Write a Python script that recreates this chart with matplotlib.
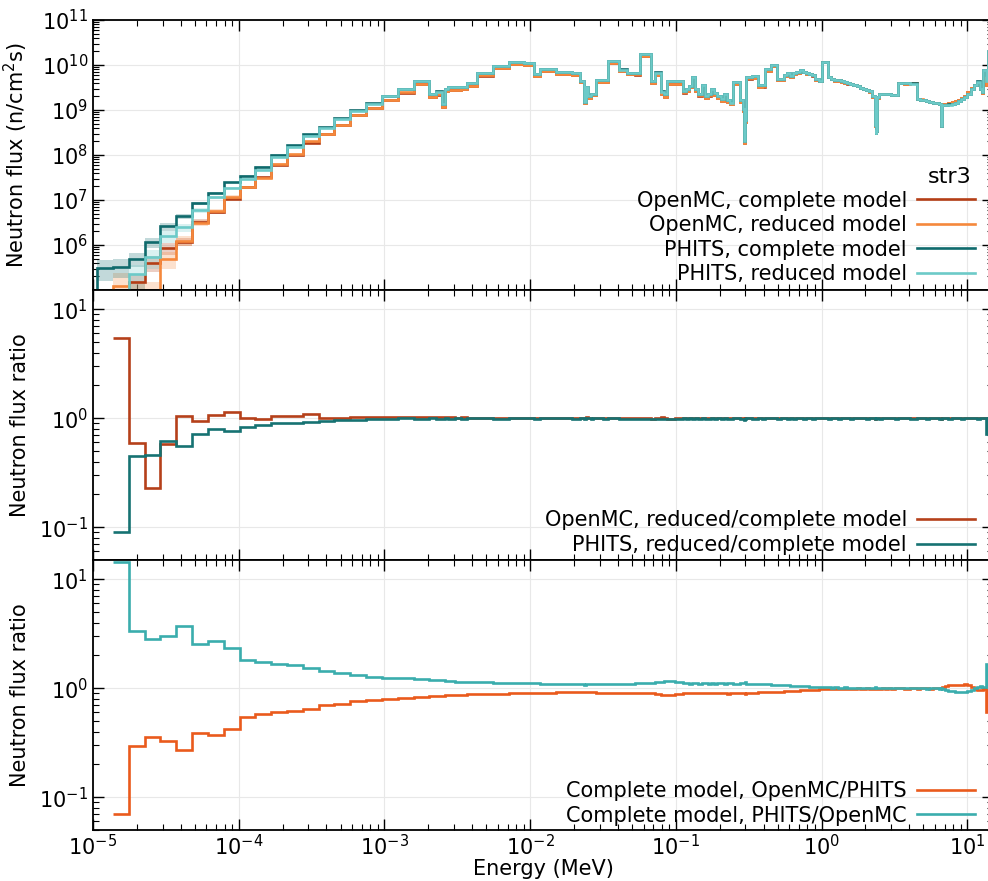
import numpy as np
import matplotlib.pyplot as plt
from matplotlib.ticker import FuncFormatter, NullFormatter, LogLocator

nan = np.nan

# group boundaries (MeV), Vitamin-J style structure above ~10 eV
edges = [
    1.0677e-5, 1.3710e-5, 1.7603e-5, 2.2603e-5, 2.9023e-5, 3.7267e-5, 4.7851e-5, 6.1442e-5,
    7.8893e-5, 1.0130e-4, 1.3007e-4, 1.6702e-4, 2.1445e-4, 2.7536e-4, 3.5357e-4, 4.5400e-4,
    5.8295e-4, 7.4852e-4, 9.6112e-4, 1.2341e-3, 1.5846e-3, 2.0347e-3, 2.2487e-3, 2.4852e-3,
    2.6126e-3, 2.7465e-3, 3.0354e-3, 3.3546e-3, 3.7074e-3, 4.3074e-3, 5.5308e-3, 7.1017e-3,
    9.1188e-3, 1.0595e-2, 1.1709e-2, 1.5034e-2, 1.9305e-2, 2.1875e-2, 2.3579e-2, 2.4176e-2,
    2.4788e-2, 2.6058e-2, 2.7000e-2, 2.8500e-2, 3.1828e-2, 3.4307e-2, 4.0868e-2, 4.6309e-2,
    5.2475e-2, 5.6562e-2, 6.7379e-2, 7.2000e-2, 7.9500e-2, 8.2500e-2, 8.6517e-2, 9.8037e-2,
    1.1109e-1, 1.1679e-1, 1.2277e-1, 1.2907e-1, 1.3569e-1, 1.4264e-1, 1.4996e-1, 1.5764e-1,
    1.6573e-1, 1.7422e-1, 1.8316e-1, 1.9255e-1, 2.0242e-1, 2.1280e-1, 2.2371e-1, 2.3518e-1,
    2.4724e-1, 2.7324e-1, 2.8725e-1, 2.9452e-1, 2.9720e-1, 2.9850e-1, 3.0197e-1, 3.3373e-1,
    3.6883e-1, 3.8774e-1, 4.0762e-1, 4.5049e-1, 4.9787e-1, 5.2340e-1, 5.5023e-1, 5.7844e-1,
    6.0810e-1, 6.3928e-1, 6.7206e-1, 7.0652e-1, 7.4274e-1, 7.8082e-1, 8.2085e-1, 8.6294e-1,
    9.0718e-1, 9.6164e-1, 1.0026, 1.1080, 1.1648, 1.2246, 1.2874, 1.3534,
    1.4227, 1.4957, 1.5724, 1.6530, 1.7377, 1.8268, 1.9205, 2.0190,
    2.1225, 2.2313, 2.3069, 2.3457, 2.3653, 2.3852, 2.4660, 2.5924,
    2.7253, 2.8650, 3.0119, 3.1664, 3.3287, 3.6788, 4.0657, 4.4933,
    4.7237, 4.9659, 5.2205, 5.4881, 5.7695, 6.0653, 6.3763, 6.5924,
    6.7032, 7.0469, 7.4082, 7.7880, 8.1873, 8.6071, 9.0484, 9.5123,
    10.000, 10.513, 11.052, 11.618, 12.214, 12.523, 12.840, 13.499,
    13.840, 14.191, 14.550, 14.918, 15.683, 16.487, 16.905, 17.333,
    19.640,
]

# PHITS, complete model: flux per group (n/cm2s)
phits_complete = [
    3.1e5, 3.3e5, 5.0e5, 1.15e6, 2.6e6, 4.4e6, 8.4e6, 1.45e7, 2.45e7, 3.5e7,
    5.5e7, 1.0e8, 1.66e8, 2.9e8, 4.2e8, 6.5e8, 1.0e9, 1.4e9, 2.05e9, 3.0e9,
    4.5e9, 2.3e9, 2.6e9, 1.35e9, 3.0e9, 3.2e9, 3.2e9, 3.3e9, 3.9e9, 6.6e9,
    9.5e9, 1.15e10, 1.09e10, 6.3e9, 8.1e9, 6.9e9, 6.6e9, 4.5e9, 1.5e9, 3.3e9,
    2.0e9, 2.3e9, 2.3e9, 4.6e9, 4.6e9, 1.23e10, 8.0e9, 6.8e9, 6.8e9, 1.75e10,
    4.4e9, 6.9e9, 2.6e9, 2.3e9, 4.4e9, 4.4e9, 2.7e9, 3.0e9, 3.5e9, 5.4e9,
    3.0e9, 2.3e9, 3.6e9, 2.05e9, 2.3e9, 3.0e9, 2.4e9, 2.05e9, 1.75e9, 2.3e9,
    1.66e9, 1.48e9, 4.1e9, 1.66e9, 1.05e9, 2.1e8, 3.2e8, 6.0e8, 5.5e9, 5.7e9,
    3.6e9, 3.6e9, 8.0e9, 1.0e10, 5.0e9, 5.0e9, 6.0e9, 6.8e9, 5.7e9, 6.6e9,
    7.1e9, 7.7e9, 7.1e9, 6.6e9, 6.4e9, 6.0e9, 4.8e9, 4.5e9, 1.18e10, 5.5e9,
    5.0e9, 4.6e9, 4.6e9, 4.3e9, 4.1e9, 3.9e9, 3.8e9, 3.6e9, 3.5e9, 3.1e9,
    3.0e9, 2.8e9, 2.6e9, 2.0e9, 4.6e8, 3.0e8, 3.5e8, 1.9e9, 2.3e9, 2.3e9,
    2.3e9, 2.25e9, 2.2e9, 2.15e9, 3.9e9, 3.9e9, 3.9e9, 1.75e9, 1.7e9, 1.65e9,
    1.6e9, 1.5e9, 1.45e9, 1.42e9, 1.38e9, 4.4e8, 1.3e9, 1.3e9, 1.33e9, 1.38e9,
    1.45e9, 1.55e9, 1.75e9, 1.9e9, 2.3e9, 3.0e9, 3.6e9, 4.3e9, 3.0e9, 2.5e9,
    7.7e9, 6.0e9, 2.0e10, 4.0e10, 2.0e9, 1.0e9, 5.0e8, 2.0e8, 1.0e8, 5.0e7,
]

# complete model, OpenMC / PHITS
openmc_over_phits = [
    nan, 0.07, 0.298, 0.355, 0.331, 0.27, 0.392, 0.371, 0.424, 0.546,
    0.58, 0.606, 0.615, 0.646, 0.694, 0.723, 0.755, 0.787, 0.80, 0.81,
    0.83, 0.84, 0.85, 0.85, 0.86, 0.86, 0.87, 0.87, 0.88, 0.885,
    0.89, 0.894, 0.895, 0.90, 0.91, 0.92, 0.92, 0.92, 0.93, 0.92,
    0.92, 0.92, 0.92, 0.91, 0.91, 0.91, 0.91, 0.91, 0.90, 0.90,
    0.90, 0.88, 0.87, 0.86, 0.86, 0.88, 0.90, 0.90, 0.91, 0.90,
    0.90, 0.91, 0.90, 0.90, 0.91, 0.90, 0.91, 0.90, 0.90, 0.91,
    0.89, 0.90, 0.91, 0.90, 0.90, 0.90, 0.90, 0.88, 0.91, 0.91,
    0.92, 0.92, 0.92, 0.93, 0.93, 0.93, 0.94, 0.94, 0.95, 0.95,
    0.95, 0.96, 0.96, 0.96, 0.97, 0.97, 0.97, 0.98, 0.98, 0.985,
    0.99, 0.98, 0.99, 0.99, 0.985, 0.99, 0.99, 0.99, 1.0, 0.99,
    0.99, 0.995, 0.99, 0.99, 0.98, 0.99, 0.99, 0.99, 0.99, 1.0,
    0.99, 0.995, 0.99, 1.0, 1.0, 0.99, 1.0, 0.99, 1.0, 1.0,
    1.01, 0.99, 1.0, 1.0, 1.01, 1.0, 1.02, 1.04, 1.06, 1.07,
    1.08, 1.08, 1.08, 1.09, 1.07, 1.03, 0.99, 0.97, 0.96, 0.97,
    0.98, 0.6, 0.98, 0.99, 0.97, 0.95, 0.95, 0.95, 0.95, 0.95,
]

# OpenMC, reduced / complete model
openmc_red_ratio = [
    nan, 5.4, 0.594, 0.228, 0.574, 1.05, 0.94, 1.08, 1.14, 1.0,
    0.98, 1.04, 1.05, 1.095, 1.0, 1.01, 1.02, 1.03, 1.03, 1.02,
    1.02, 1.03, 1.02, 1.02, 1.02, 1.02, 1.01, 1.02, 1.01, 1.01,
    1.01, 1.01, 1.01, 1.01, 1.0, 1.01, 1.01, 1.0, 1.01, 1.02,
    1.0, 1.01, 1.01, 1.0, 1.0, 1.0, 1.01, 1.0, 1.01, 1.0,
    0.99, 1.01, 1.02, 1.0, 0.99, 1.0, 1.01, 1.0, 1.0, 1.01,
    1.0, 1.01, 1.0, 1.0, 1.01, 1.0, 1.0, 1.01, 1.0, 1.0,
    1.01, 1.0, 1.0, 1.01, 1.0, 0.98, 1.02, 1.0, 1.01, 1.0,
    1.0, 1.01, 1.0, 1.0, 1.01, 1.0, 1.0, 1.01, 1.0, 1.0,
    1.0, 1.01, 1.0, 1.0, 1.0, 1.01, 1.0, 1.0, 1.0, 1.0,
    1.01, 1.0, 1.0, 1.0, 1.0, 1.01, 1.0, 1.0, 1.0, 1.0,
    1.0, 1.01, 1.0, 1.0, 0.99, 1.01, 1.0, 1.0, 1.0, 1.0,
    1.0, 1.0, 1.01, 1.0, 1.0, 1.0, 1.0, 1.0, 1.01, 1.0,
    1.0, 1.0, 1.0, 1.0, 1.0, 0.99, 1.0, 1.0, 1.0, 1.01,
    1.0, 1.0, 1.0, 1.0, 1.0, 1.0, 1.0, 1.0, 1.0, 1.0,
    1.0, 1.0, 1.0, 1.0, 1.0, 1.0, 1.0, 1.0, 1.0, 1.0,
]

# PHITS, reduced / complete model
phits_red_ratio = [
    nan, 0.09, 0.448, 0.464, 0.615, 0.561, 0.713, 0.793, 0.76, 0.83,
    0.857, 0.894, 0.906, 0.93, 0.95, 0.96, 0.97, 0.98, 0.99, 1.0,
    0.99, 1.0, 0.99, 0.99, 1.0, 0.99, 1.0, 0.99, 1.0, 1.0,
    0.99, 1.0, 1.0, 0.99, 1.0, 1.0, 0.99, 1.0, 0.99, 1.0,
    1.0, 0.99, 1.0, 1.0, 0.99, 1.0, 0.99, 0.98, 0.98, 0.98,
    0.98, 0.98, 0.99, 0.98, 0.99, 0.99, 1.0, 0.99, 1.0, 0.99,
    1.0, 0.99, 1.0, 0.99, 0.99, 1.0, 0.99, 1.0, 0.99, 1.0,
    0.99, 0.99, 1.0, 0.99, 0.99, 0.97, 0.99, 0.99, 1.0, 0.99,
    1.0, 0.99, 1.0, 1.0, 0.99, 1.0, 1.0, 0.99, 1.0, 0.99,
    1.0, 1.0, 0.99, 1.0, 1.0, 0.99, 1.0, 1.0, 1.0, 0.99,
    1.0, 1.0, 0.99, 1.0, 1.0, 1.0, 0.99, 1.0, 1.0, 1.0,
    1.0, 0.99, 1.0, 1.0, 0.99, 1.0, 1.0, 1.0, 0.99, 1.0,
    1.0, 1.0, 1.0, 0.99, 1.0, 1.0, 0.99, 1.0, 1.0, 1.0,
    0.99, 1.0, 1.0, 1.0, 0.99, 0.99, 1.0, 1.0, 0.99, 1.0,
    1.0, 1.0, 0.99, 1.0, 1.0, 1.0, 1.0, 0.99, 1.0, 1.0,
    1.0, 0.72, 1.0, 1.0, 1.0, 1.0, 1.0, 1.0, 1.0, 1.0,
]

# relative statistical uncertainty, first groups only
phits_complete_err = [0.5, 0.45, 0.35, 0.25, 0.2, 0.12, 0.08, 0.06, 0.05, 0.04, 0.03, 0.03]
phits_reduced_err = [nan, 0.9, 0.6, 0.45, 0.3, 0.2, 0.12, 0.08, 0.06, 0.05, 0.04, 0.03]
openmc_complete_err = [nan, 0.9, 0.55, 0.4, 0.3, 0.18, 0.12, 0.08, 0.06, 0.05, 0.04, 0.03]
openmc_reduced_err = [nan, 0.9, 0.8, 0.6, 0.4, 0.25, 0.15, 0.1, 0.07, 0.05, 0.04, 0.03]

edges = np.array(edges)
phits_complete = np.array(phits_complete)
openmc_over_phits = np.array(openmc_over_phits)
openmc_complete = phits_complete * openmc_over_phits
openmc_reduced = openmc_complete * np.array(openmc_red_ratio)
phits_reduced = phits_complete * np.array(phits_red_ratio)
phits_over_openmc = 1.0 / openmc_over_phits

c_omc_c = '#b43e16'
c_omc_r = '#f5883c'
c_ph_c = '#0f6a6c'
c_ph_r = '#6ccac8'
c_ratio_omc = '#b5401a'
c_ratio_ph = '#167272'
c_cmp_omc = '#ea5a1c'
c_cmp_ph = '#3aadad'

plt.rcParams['font.family'] = ['DejaVu Sans']
fig = plt.figure(figsize=(9.88, 8.81), dpi=100)
left = 93 / 988
width = (993 - 93) / 988
h = 270 / 881
ax1 = fig.add_axes([left, 1 - 290 / 881, width, h])
ax2 = fig.add_axes([left, 1 - 560 / 881, width, h], sharex=ax1)
ax3 = fig.add_axes([left, 1 - 830 / 881, width, h], sharex=ax1)


def band(ax, vals, errs, color, alpha):
    for i, e in enumerate(errs):
        if np.isnan(e) or np.isnan(vals[i]):
            continue
        ax.fill_between([edges[i], edges[i + 1]], vals[i] * (1 - e), vals[i] * (1 + e),
                        color=color, alpha=alpha, lw=0, zorder=1)


lw = 1.9
band(ax1, openmc_complete, openmc_complete_err, c_omc_c, 0.25)
band(ax1, openmc_reduced, openmc_reduced_err, c_omc_r, 0.25)
band(ax1, phits_complete, phits_complete_err, c_ph_c, 0.25)
band(ax1, phits_reduced, phits_reduced_err, c_ph_r, 0.25)
ax1.stairs(openmc_complete, edges, baseline=0, color=c_omc_c, lw=lw, label='OpenMC, complete model', zorder=3)
ax1.stairs(openmc_reduced, edges, baseline=0, color=c_omc_r, lw=lw, label='OpenMC, reduced model', zorder=3)
ax1.stairs(phits_complete, edges, baseline=0, color=c_ph_c, lw=lw, label='PHITS, complete model', zorder=3)
ax1.stairs(phits_reduced, edges, baseline=0, color=c_ph_r, lw=lw, label='PHITS, reduced model', zorder=3)

ax2.stairs(openmc_red_ratio, edges, baseline=None, color=c_ratio_omc, lw=lw,
           label='OpenMC, reduced/complete model', zorder=3)
ax2.stairs(phits_red_ratio, edges, baseline=None, color=c_ratio_ph, lw=lw,
           label='PHITS, reduced/complete model', zorder=3)

ax3.stairs(openmc_over_phits, edges, baseline=None, color=c_cmp_omc, lw=lw,
           label='Complete model, OpenMC/PHITS', zorder=3)
ax3.stairs(phits_over_openmc, edges, baseline=None, color=c_cmp_ph, lw=lw,
           label='Complete model, PHITS/OpenMC', zorder=3)


def fmt_top(v, pos):
    e = int(round(np.log10(v)))
    if e <= 5:
        return ''
    return r'$\mathdefault{10^{%d}}$' % e


def fmt_log(v, pos):
    e = int(round(np.log10(v)))
    return r'$\mathdefault{10^{%d}}$' % e


def fmt_x(v, pos):
    e = int(round(np.log10(v)))
    if e < -5 or e > 1:
        return ''
    return r'$\mathdefault{10^{%d}}$' % e


for ax in (ax1, ax2, ax3):
    ax.set_xscale('log')
    ax.set_yscale('log')
    ax.set_axisbelow(True)
    ax.grid(True, which='major', color='#e8e8e8', lw=0.8)
    ax.yaxis.set_major_locator(LogLocator(base=10, numticks=30))
    ax.yaxis.set_minor_locator(LogLocator(base=10, subs=np.arange(2, 10), numticks=30))
    ax.xaxis.set_major_locator(LogLocator(base=10, numticks=30))
    ax.xaxis.set_minor_locator(LogLocator(base=10, subs=np.arange(2, 10), numticks=30))
    ax.tick_params(which='both', direction='in', top=True, right=True, labelsize=15)
    ax.tick_params(which='major', length=8, width=1)
    ax.tick_params(which='minor', length=4, width=0.8)
    ax.tick_params(axis='x', pad=3)
    ax.yaxis.set_minor_formatter(NullFormatter())
    ax.xaxis.set_minor_formatter(NullFormatter())
    for s in ax.spines.values():
        s.set_linewidth(1.3)

ax1.set_xlim(1e-5, 15)
ax1.set_ylim(1e5, 1e11)
ax2.set_ylim(0.05, 15)
ax3.set_ylim(0.05, 15)
ax1.yaxis.set_major_formatter(FuncFormatter(fmt_top))
ax2.yaxis.set_major_formatter(FuncFormatter(fmt_log))
ax3.yaxis.set_major_formatter(FuncFormatter(fmt_log))
ax3.xaxis.set_major_formatter(FuncFormatter(fmt_x))
ax1.tick_params(labelbottom=False)
ax2.tick_params(labelbottom=False)

ax1.set_ylabel('Neutron flux (n/cm$^{2}$s)', fontsize=15)
ax2.set_ylabel('Neutron flux ratio', fontsize=15)
ax3.set_ylabel('Neutron flux ratio', fontsize=15)
for ax in (ax1, ax2, ax3):
    ax.yaxis.set_label_coords(-0.07, 0.5)
ax3.set_xlabel('Energy (MeV)', fontsize=15, labelpad=0)

leg_kw = dict(loc='lower right', frameon=False, markerfirst=False, fontsize=15,
              handlelength=2.75, handletextpad=0.5, labelspacing=0.22, borderaxespad=0)
ax1.legend(bbox_to_anchor=(0.989, -0.01), **leg_kw)
ax2.legend(bbox_to_anchor=(0.989, -0.012), **leg_kw)
ax3.legend(bbox_to_anchor=(0.989, -0.015), **leg_kw)
# legend title of the top panel, right-aligned above the entries
fig.text(972 / 988, 1 - 177 / 881, 'str3', ha='right', va='center', fontsize=16)

fig.savefig('out.png', dpi=100)
